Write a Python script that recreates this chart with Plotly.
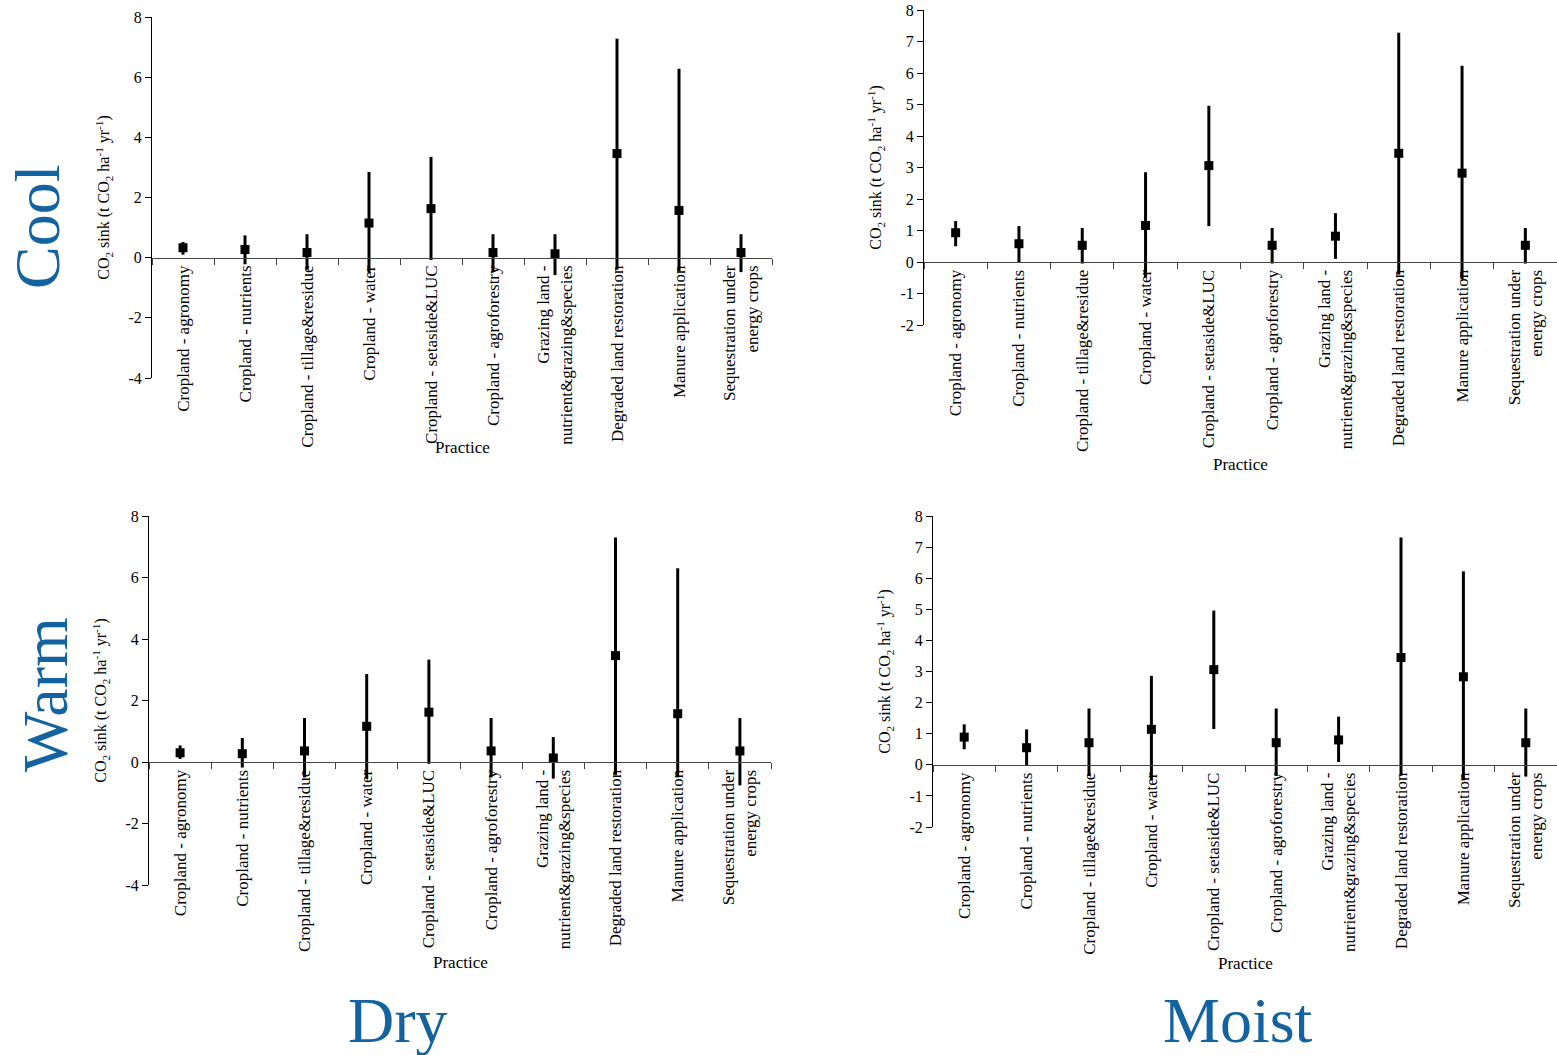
import plotly.graph_objects as go

# ---------------- data ----------------
categories = [
    "Cropland - agronomy",
    "Cropland - nutrients",
    "Cropland - tillage&residue",
    "Cropland - water",
    "Cropland - setaside&LUC",
    "Cropland - agroforestry",
    "Grazing land -<br>nutrient&grazing&species",
    "Degraded land restoration",
    "Manure application",
    "Sequestration under<br>energy crops",
]

cool_dry_mean = [0.33, 0.27, 0.17, 1.15, 1.63, 0.17, 0.13, 3.46, 1.57, 0.17]
cool_dry_high = [0.52, 0.74, 0.78, 2.85, 3.35, 0.78, 0.78, 7.28, 6.28, 0.78]
cool_dry_low = [0.10, -0.22, -0.40, -0.48, -0.08, -0.48, -0.58, -0.40, -0.45, -0.48]

cool_moist_mean = [0.93, 0.58, 0.53, 1.16, 3.06, 0.53, 0.82, 3.45, 2.82, 0.53]
cool_moist_high = [1.30, 1.14, 1.08, 2.85, 4.96, 1.08, 1.55, 7.28, 6.23, 1.08]
cool_moist_low = [0.50, 0.00, -0.05, -0.48, 1.14, -0.05, 0.10, -0.40, -0.55, -0.05]

warm_dry_mean = [0.30, 0.27, 0.36, 1.16, 1.62, 0.36, 0.13, 3.46, 1.57, 0.36]
warm_dry_high = [0.54, 0.78, 1.43, 2.86, 3.33, 1.43, 0.81, 7.30, 6.30, 1.43]
warm_dry_low = [0.10, -0.18, -0.50, -0.55, -0.06, -0.50, -0.54, -0.42, -0.50, -0.76]

warm_moist_mean = [0.89, 0.55, 0.71, 1.14, 3.06, 0.71, 0.80, 3.45, 2.83, 0.71]
warm_moist_high = [1.30, 1.14, 1.81, 2.86, 4.96, 1.81, 1.55, 7.31, 6.22, 1.81]
warm_moist_low = [0.50, -0.02, -0.36, -0.48, 1.15, -0.36, 0.09, -0.35, -0.50, -0.38]

dry_ticks = [-4, -2, 0, 2, 4, 6, 8]
dry_tick_labels = ["-4", "-2", "0", "2", "4", "6", "8"]
moist_ticks = [-2, -1, 0, 1, 2, 3, 4, 5, 6, 7, 8]
moist_tick_labels = ["-2", "-1", "0", "1", "2", "3", "4", "5", "6", "7", "8"]

y_title = "CO<sub>2</sub> sink (t CO<sub>2</sub> ha<sup>-1</sup> yr<sup>-1</sup>)"
x_title = "Practice"

# ---------------- layout helpers ----------------
W, H = 1557, 1055
FONT = "Liberation Serif, Times New Roman, serif"
BLUE = "#12639f"

panels = [
    dict(mean=cool_dry_mean, hi=cool_dry_high, lo=cool_dry_low,
         tv=dry_ticks, tt=dry_tick_labels,
         px=(152, 772), py=(17, 378), prac_y=447),
    dict(mean=cool_moist_mean, hi=cool_moist_high, lo=cool_moist_low,
         tv=moist_ticks, tt=moist_tick_labels,
         px=(924, 1557), py=(10, 325), prac_y=464),
    dict(mean=warm_dry_mean, hi=warm_dry_high, lo=warm_dry_low,
         tv=dry_ticks, tt=dry_tick_labels,
         px=(149, 771), py=(516, 885), prac_y=962),
    dict(mean=warm_moist_mean, hi=warm_moist_high, lo=warm_moist_low,
         tv=moist_ticks, tt=moist_tick_labels,
         px=(933, 1557), py=(516, 827), prac_y=963),
]

fig = go.Figure()
annotations = []

for i, p in enumerate(panels, start=1):
    sfx = "" if i == 1 else str(i)
    mean, hi, lo = p["mean"], p["hi"], p["lo"]
    fig.add_trace(go.Scatter(
        x=categories, y=mean, mode="markers",
        marker=dict(symbol="square", size=9, color="black"),
        error_y=dict(type="data", symmetric=False,
                     array=[h - m for h, m in zip(hi, mean)],
                     arrayminus=[m - l for m, l in zip(mean, lo)],
                     color="black", thickness=3, width=0),
        xaxis="x" + sfx, yaxis="y" + sfx, showlegend=False, cliponaxis=False,
    ))

    x0, x1 = p["px"][0] / W, min(p["px"][1] / W, 1.0)
    ytop, ybot = 1 - p["py"][0] / H, 1 - p["py"][1] / H
    ymin, ymax = min(p["tv"]), max(p["tv"])
    zero_pos = ybot + (0 - ymin) / (ymax - ymin) * (ytop - ybot)

    fig.layout["xaxis" + sfx] = dict(
        type="category", range=[-0.5, 9.5], domain=[x0, x1],
        anchor="free", position=zero_pos, automargin=False,
        tickson="boundaries", ticks="outside", ticklen=6, tickcolor="#444",
        showline=True, linecolor="#444", linewidth=1,
        tickangle=-90, tickfont=dict(family=FONT, size=17, color="black"),
        showgrid=False, zeroline=False, fixedrange=True,
    )
    fig.layout["yaxis" + sfx] = dict(
        range=[ymin, ymax], tickmode="array", tickvals=p["tv"], ticktext=p["tt"],
        domain=[ybot, ytop], anchor="x" + sfx, automargin=False,
        ticks="outside", ticklen=6, tickcolor="black",
        showline=True, linecolor="black", linewidth=1,
        tickfont=dict(family=FONT, size=16, color="black"),
        showgrid=False, zeroline=False,
        title=dict(text=y_title, font=dict(family=FONT, size=16, color="black"),
                   standoff=14),
    )
    annotations.append(dict(
        text=x_title, xref="x" + sfx + " domain", x=0.5,
        yref="paper", y=1 - p["prac_y"] / H, xanchor="center", yanchor="middle",
        showarrow=False, font=dict(family=FONT, size=17, color="black"),
    ))

big = dict(family=FONT, size=64, color=BLUE)
annotations += [
    dict(text="Cool", x=37 / W, y=1 - 227 / H, xref="paper", yref="paper",
         textangle=-90, showarrow=False, font=big, xanchor="center", yanchor="middle"),
    dict(text="Warm", x=45 / W, y=1 - 695 / H, xref="paper", yref="paper",
         textangle=-90, showarrow=False, font=big, xanchor="center", yanchor="middle"),
    dict(text="Dry", x=398 / W, y=1 - 1020 / H, xref="paper", yref="paper",
         showarrow=False, font=big, xanchor="center", yanchor="middle"),
    dict(text="Moist", x=1238 / W, y=1 - 1020 / H, xref="paper", yref="paper",
         showarrow=False, font=big, xanchor="center", yanchor="middle"),
]

fig.update_layout(
    width=W, height=H, margin=dict(l=0, r=0, t=0, b=0, autoexpand=False),
    paper_bgcolor="white", plot_bgcolor="white",
    annotations=annotations, showlegend=False,
)

fig.write_html("out.html")
